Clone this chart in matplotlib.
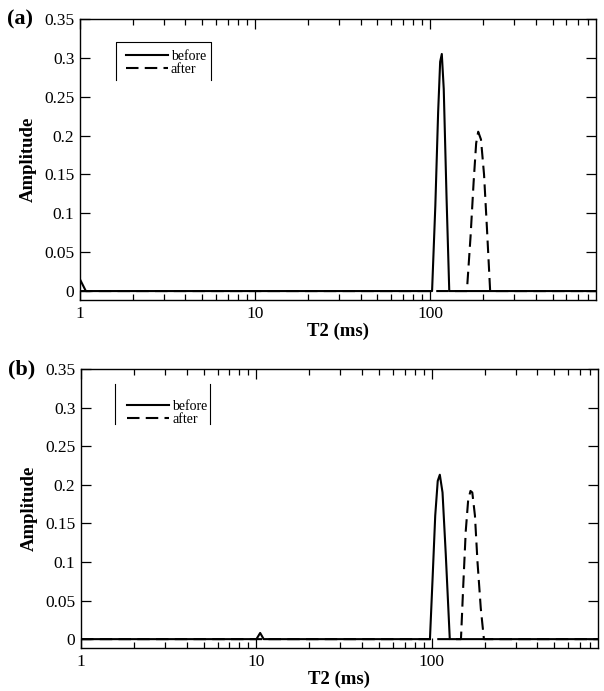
import numpy as np
import matplotlib
matplotlib.use("Agg")
import matplotlib.pyplot as plt
from matplotlib.ticker import FixedLocator, NullFormatter

plt.rcParams['font.family'] = ['Liberation Serif', 'DejaVu Serif']

# panel (a) - T2 distributions
t2_a_before = [1.0, 1.08, 102.5, 107, 111, 114, 116.5, 119.5, 124, 128.5, 885]
amp_a_before = [0.015, 0.0, 0.0, 0.11, 0.23, 0.295, 0.305, 0.26, 0.12, 0.0, 0.0]
t2_a_after = [1.0, 162, 170, 177, 183, 188, 195, 203, 211, 220, 885]
amp_a_after = [0.0, 0.0, 0.07, 0.14, 0.19, 0.205, 0.195, 0.15, 0.08, 0.0, 0.0]

# panel (b)
t2_b_before = [1.0, 10.0, 10.5, 11.0, 97.5, 101, 104.5, 108, 111, 115, 120, 126.5, 885]
amp_b_before = [0.0, 0.0, 0.008, 0.0, 0.0, 0.08, 0.16, 0.205, 0.213, 0.19, 0.11, 0.0, 0.0]
t2_b_after = [1.0, 146.5, 151, 156, 161, 166, 170, 176, 182, 190, 198, 885]
amp_b_after = [0.0, 0.0, 0.07, 0.14, 0.18, 0.192, 0.19, 0.16, 0.1, 0.04, 0.0, 0.0]

yticks = [0, 0.05, 0.1, 0.15, 0.2, 0.25, 0.3, 0.35]
ytick_labels = ['0', '0.05', '0.1', '0.15', '0.2', '0.25', '0.3', '0.35']
xticks = [1, 10, 100]
xtick_labels = ['1', '10', '100']
minor_x = [m * d for d in (1, 10, 100) for m in range(2, 10)]

fig = plt.figure(figsize=(6.04, 6.91), dpi=100)
ax_a = fig.add_axes([80 / 604, 1 - 300 / 691, 516 / 604, 281 / 691])
ax_b = fig.add_axes([81 / 604, 1 - 648 / 691, 517 / 604, 279 / 691])

panels = [
    (ax_a, t2_a_before, amp_a_before, t2_a_after, amp_a_after, '(a)'),
    (ax_b, t2_b_before, amp_b_before, t2_b_after, amp_b_after, '(b)'),
]

for ax, tb, ab, ta, aa, tag in panels:
    ax.plot(ta, aa, color='black', lw=1.5, ls=(0, (6, 3)), label='after')
    ax.plot(tb, ab, color='black', lw=1.5, label='before')
    ax.set_xscale('log')
    ax.set_xlim(1, 885)
    ax.set_ylim(-0.0115, 0.35)
    ax.xaxis.set_major_locator(FixedLocator(xticks))
    ax.set_xticklabels(xtick_labels)
    ax.xaxis.set_minor_locator(FixedLocator(minor_x))
    ax.xaxis.set_minor_formatter(NullFormatter())
    ax.set_yticks(yticks)
    ax.set_yticklabels(ytick_labels)
    ax.tick_params(which='both', direction='in', top=True, right=True,
                   labelsize=12.5, width=0.9, pad=4)
    ax.tick_params(which='major', length=7)
    ax.tick_params(which='minor', length=4)
    for s in ax.spines.values():
        s.set_linewidth(1.0)
    ax.set_xlabel('T2 (ms)', fontsize=13.5, fontweight='bold', labelpad=1)
    ax.set_ylabel('Amplitude', fontsize=13.5, fontweight='bold', labelpad=5)
    ax.text(-0.142, 1.0, tag, transform=ax.transAxes, fontsize=16,
            fontweight='bold', ha='left', va='center')
    handles, labels = ax.get_legend_handles_labels()
    leg = ax.legend(handles[::-1], labels[::-1], loc='upper left',
                    bbox_to_anchor=(0.07, 0.923), frameon=False, fontsize=10,
                    handlelength=3.0, handletextpad=0.25, labelspacing=0.0,
                    borderpad=0.2)

# partial legend borders as in the original
ax_a.plot([0.0695, 0.0695, 0.254, 0.254], [0.782, 0.917, 0.917, 0.782],
          color='black', lw=0.8, transform=ax_a.transAxes)
ax_b.plot([0.0665, 0.0665], [0.802, 0.945], color='black', lw=0.8,
          transform=ax_b.transAxes)
ax_b.plot([0.250, 0.250], [0.802, 0.945], color='black', lw=0.8,
          transform=ax_b.transAxes)

fig.savefig('out.png', dpi=100)
